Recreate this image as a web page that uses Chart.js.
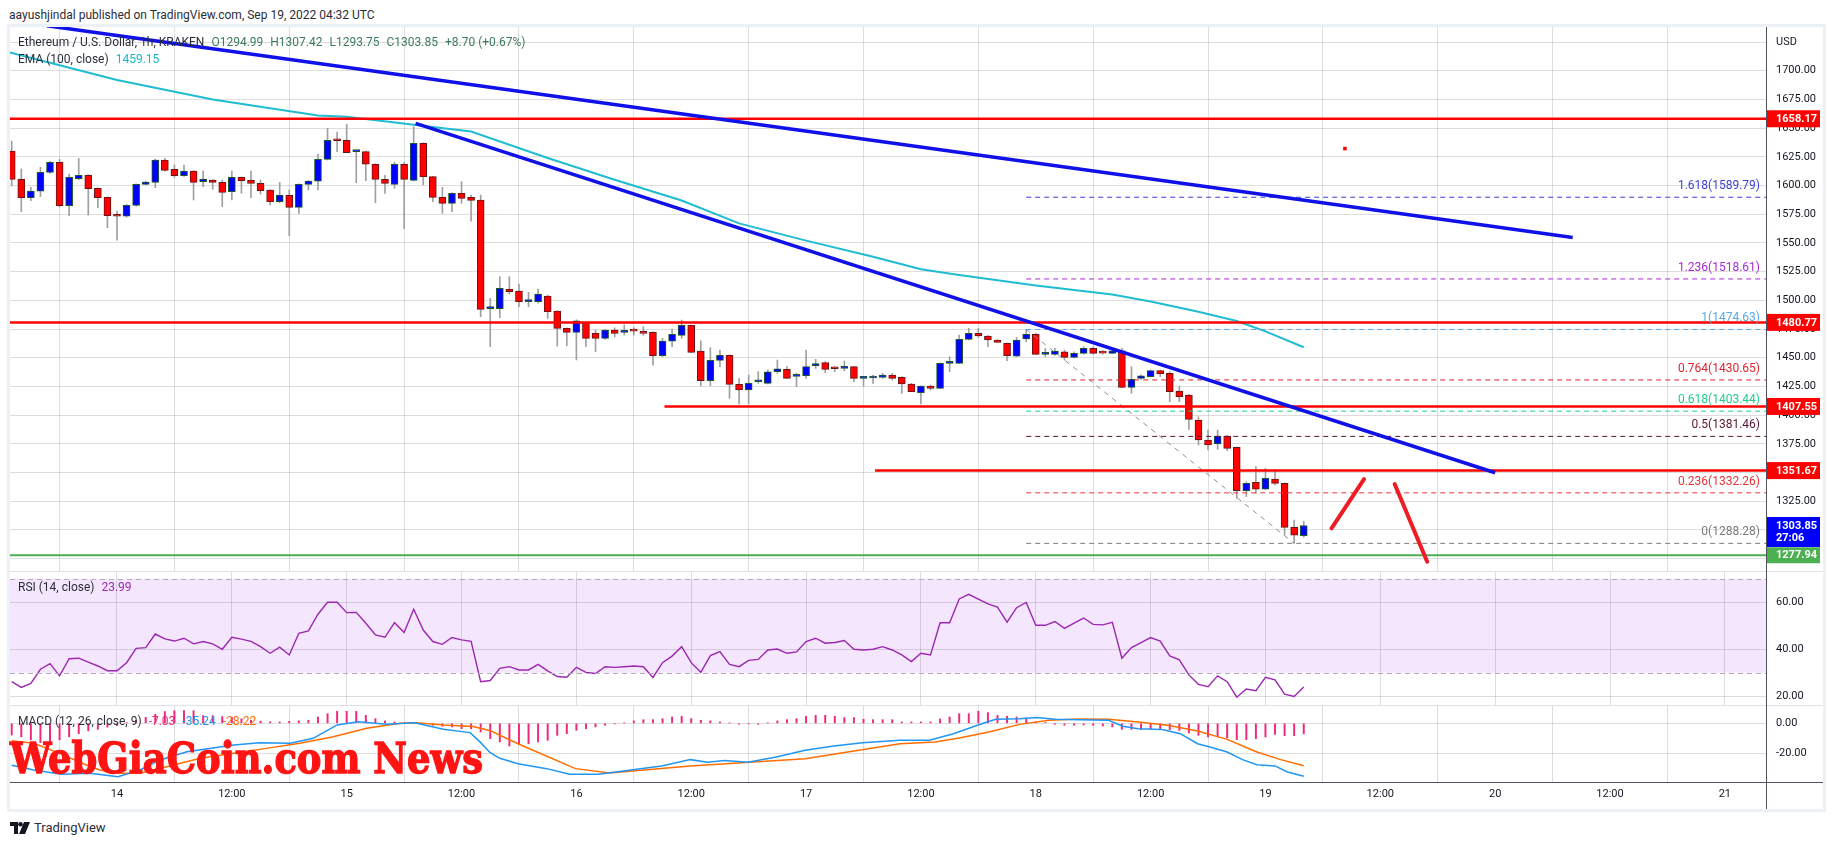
<!DOCTYPE html>
<html>
<head>
<meta charset="utf-8">
<script src="https://cdn.jsdelivr.net/npm/chart.js@4.4.0/dist/chart.umd.min.js"></script>
<style>
  html, body { margin: 0; padding: 0; background: #fff; }
  body { width: 1834px; height: 845px; position: relative; overflow: hidden; font-family: Roboto, 'DejaVu Sans', sans-serif; color: #131722; }
  canvas { position: absolute; left: 10px; }
  .abs { position: absolute; white-space: nowrap; }
  .lg { font-size: 12px; line-height: 14px; color: #2a2e39; }
  .lg span { margin-right: 4px; }
  .ln { position: absolute; }
</style>
</head>
<body>
<div class="abs" style="left:7px;top:24px;width:1819px;height:788px;border:3px solid #edf0f5;box-sizing:border-box;"></div>

<canvas id="price" width="1813" height="544" style="top:27px"></canvas>
<canvas id="rsi" width="1813" height="134" style="top:571px"></canvas>
<canvas id="macd" width="1813" height="104" style="top:705px"></canvas>

<div class="ln" style="left:10px;top:571px;width:1813px;height:1px;background:#dfe1e8"></div>
<div class="ln" style="left:10px;top:705px;width:1813px;height:1px;background:#dfe1e8"></div>
<div class="ln" style="left:10px;top:782px;width:1813px;height:1px;background:#50535e"></div>
<div class="ln" style="left:1766px;top:27px;width:1px;height:782px;background:#50535e"></div>

<div class="abs" style="left:9px;top:8px;font-size:12px;line-height:14px;color:#2a2e39">aayushjindal published on TradingView.com, Sep 19, 2022 04:32 UTC</div>
<div class="abs lg" style="left:18px;top:35px"><span>Ethereum / U.S. Dollar, 1h, KRAKEN</span> <span style="color:#3d7b5b">O1294.99</span> <span style="color:#3d7b5b">H1307.42</span> <span style="color:#3d7b5b">L1293.75</span> <span style="color:#3d7b5b">C1303.85</span> <span style="color:#3d7b5b">+8.70 (+0.67%)</span></div>
<div class="abs lg" style="left:18px;top:52px"><span>EMA (100, close)</span> <span style="color:#1cb5cc">1459.15</span></div>
<div class="abs lg" style="left:18px;top:580px"><span>RSI (14, close)</span> <span style="color:#9c27b0">23.99</span></div>
<div class="abs lg" style="left:18px;top:714px"><span>MACD (12, 26, close, 9)</span> <span style="color:#f0287a">-7.03</span> <span style="color:#2196f3">-35.24</span> <span style="color:#ff6d00">-28.22</span></div>

<div id="wm" class="abs" style="left:10px;top:737px;font-family:'DejaVu Serif Condensed','DejaVu Serif',serif;font-weight:bold;font-size:43px;line-height:43px;color:#ff1414;-webkit-text-stroke:1.3px #ff1414;transform-origin:0 0;">WebGiaCoin.com News</div>

<div class="abs" style="left:10px;top:820px;display:flex;align-items:center;">
  <svg width="20" height="12" viewBox="0 0 20 12"><path d="M0 0h8v12H4V4H0z" fill="#131722"/><circle cx="10.5" cy="2.3" r="2.3" fill="#131722"/><path d="M14 0h6l-5 12H9z" fill="#131722"/></svg>
  <span style="font-size:13px;margin-left:4px;color:#2a2e39">TradingView</span>
</div>

<script>
// hours counted from Sep 13 00:00; first candle is Sep 13 13:00
const firstHour = 13;
const opens = [1630.1,1605.4,1589.4,1595.0,1611.5,1620.2,1582.4,1606.0,1608.9,1597.5,
1589.7,1573.7,1573.2,1582.7,1601.0,1602.8,1622.2,1614.1,1608.6,1612.6,
1603.4,1604.8,1602.8,1594.6,1607.1,1604.8,1601.9,1596.1,1585.9,1591.4,
1581.0,1601.0,1603.9,1622.8,1639.4,1639.4,1629.5,1629.5,1618.5,1605.4,
1601.0,1618.5,1604.5,1636.8,1607.7,1589.7,1584.5,1593.2,1589.7,1587.4,
1492.7,1492.7,1509.5,1508.1,1498.8,1498.8,1503.7,1490.7,1475.6,1472.1,
1480.5,1471.2,1466.9,1474.1,1472.1,1473.3,1472.1,1472.1,1451.8,1464.5,
1469.5,1478.2,1455.8,1430.0,1447.7,1452.1,1426.8,1421.9,1429.1,1427.7,
1437.8,1439.9,1433.7,1434.3,1443.0,1445.7,1440.7,1440.7,1442.2,1432.0,
1432.3,1432.9,1434.9,1432.9,1427.1,1419.6,1425.3,1423.3,1445.1,1445.1,
1466.0,1471.2,1468.9,1465.4,1462.5,1451.4,1466.3,1470.4,1452.9,1452.9,
1455.2,1450.3,1453.8,1458.1,1454.5,1453.8,1456.1,1424.2,1432.0,1433.5,
1438.7,1436.4,1421.0,1417.5,1395.7,1378.3,1374.8,1381.8,1371.9,1334.2,
1341.4,1335.4,1344.3,1340.6,1302.2,1294.99];
const highs = [1638.8,1614.4,1598.4,1616.0,1621.0,1622.8,1610.0,1623.7,1609.5,1598.0,
1590.0,1577.8,1583.5,1601.5,1603.8,1623.1,1623.7,1617.9,1617.9,1613.0,
1612.6,1605.2,1604.8,1612.6,1607.5,1612.6,1604.8,1596.5,1602.8,1596.1,
1601.5,1604.3,1627.5,1649.8,1646.6,1653.3,1630.0,1630.0,1619.0,1608.9,
1620.2,1620.2,1651.3,1637.2,1608.1,1598.4,1593.6,1603.4,1591.7,1591.7,
1501.7,1520.6,1520.6,1514.2,1507.0,1509.8,1504.5,1491.0,1476.0,1483.0,
1481.0,1474.0,1474.5,1476.0,1478.5,1476.3,1477.0,1472.5,1466.9,1475.0,
1482.8,1478.6,1464.8,1458.7,1456.7,1452.5,1432.0,1434.9,1437.8,1439.3,
1448.0,1442.2,1436.4,1456.7,1448.6,1446.6,1442.2,1447.1,1442.6,1433.5,
1434.9,1436.4,1436.4,1433.5,1427.7,1425.5,1426.2,1445.5,1450.9,1469.8,
1475.6,1475.6,1469.3,1465.8,1462.9,1467.7,1474.63,1471.2,1458.1,1458.1,
1456.7,1455.2,1459.6,1459.6,1456.1,1458.1,1458.1,1442.2,1435.2,1439.3,
1439.3,1437.8,1425.3,1418.0,1398.6,1387.0,1387.0,1382.2,1372.2,1342.0,
1355.1,1353.6,1352.2,1341.0,1308.6,1307.42];
const lows = [1599.6,1577.2,1586.8,1590.3,1610.5,1581.5,1573.7,1605.0,1574.3,1580.7,
1563.3,1552.5,1572.5,1582.0,1600.5,1598.1,1612.5,1607.1,1608.0,1587.4,
1599.0,1596.7,1581.6,1587.4,1593.2,1589.4,1592.6,1583.0,1585.0,1556.3,
1575.8,1596.1,1596.1,1622.2,1629.5,1628.6,1602.5,1604.2,1585.0,1593.2,
1597.5,1562.7,1604.0,1600.5,1585.9,1575.8,1577.2,1584.5,1569.0,1485.7,
1459.6,1484.9,1505.5,1494.5,1494.5,1497.5,1484.3,1460.2,1460.5,1448.0,
1459.6,1455.3,1466.0,1468.0,1469.8,1469.7,1469.5,1443.6,1451.0,1459.6,
1466.9,1454.3,1425.3,1425.6,1442.2,1414.6,1409.7,1409.7,1427.7,1427.1,
1436.4,1432.0,1424.8,1432.0,1440.7,1437.0,1437.8,1438.4,1429.1,1425.3,
1427.7,1432.0,1430.6,1419.0,1420.4,1409.7,1421.9,1423.0,1437.8,1444.8,
1465.4,1467.7,1459.6,1463.4,1447.4,1451.0,1464.0,1452.9,1451.0,1452.0,
1448.0,1449.8,1453.2,1453.2,1453.2,1453.5,1424.0,1419.0,1431.1,1433.2,
1433.5,1411.7,1411.7,1387.6,1374.0,1369.6,1370.2,1369.0,1327.5,1329.0,
1331.8,1335.0,1339.1,1295.5,1288.28,1293.75];
const closes = [1605.4,1589.4,1595.2,1611.5,1620.2,1582.4,1607.1,1608.9,1597.3,1589.4,
1573.7,1573.2,1582.7,1601.0,1603.1,1622.2,1613.2,1608.6,1612.6,1602.8,
1605.7,1602.8,1594.1,1607.1,1604.2,1601.9,1595.5,1585.9,1591.7,1581.0,
1601.0,1603.9,1622.8,1639.4,1639.0,1628.6,1629.8,1618.5,1605.4,1601.9,
1618.5,1605.4,1636.8,1607.7,1589.7,1584.5,1593.2,1588.8,1587.1,1492.1,
1492.9,1510.4,1507.5,1498.8,1499.2,1505.5,1490.1,1475.6,1472.1,1482.2,
1466.9,1466.9,1474.1,1471.2,1472.6,1473.1,1471.2,1451.8,1464.5,1470.4,
1478.2,1454.7,1430.0,1447.7,1452.1,1426.8,1421.9,1427.7,1429.4,1437.8,
1440.4,1432.0,1433.8,1442.2,1445.0,1439.9,1440.4,1442.2,1432.0,1432.3,
1432.6,1434.9,1432.0,1427.1,1420.4,1425.3,1423.3,1445.1,1445.4,1466.0,
1471.2,1468.9,1465.4,1463.4,1451.8,1465.4,1470.4,1452.9,1453.1,1455.8,
1450.3,1453.8,1458.1,1453.8,1454.0,1456.1,1424.2,1431.1,1434.3,1438.7,
1435.8,1420.4,1416.0,1396.3,1378.3,1374.0,1381.8,1371.0,1334.2,1340.6,
1335.4,1344.9,1340.6,1302.2,1295.5,1303.85];

// EMA(100) read at key hours
const emaHours = [12.8,24,34,45,48,55,61,69,76,83,89,96,103,108,112,120,128,132,137,141,144,148];
const emaValues = [1716,1692,1675,1661,1660,1653,1647,1624,1605,1587,1567,1552,1538,1527,1522,1513,1505,1499,1490,1482,1473,1459.15];

const rsiValues = [26.2,23.8,25.5,31.5,33.9,28.7,36,36.2,34.5,32.9,
30.9,30.9,34.3,40.4,40.7,46.5,44.4,43.5,44.7,42.3,
43.3,42.3,40,45.1,44.3,43.4,41.1,38.3,40.9,37.6,
46.8,47.8,54.9,60,60,55.6,55.7,51.1,46.1,45.1,
51.3,47.1,57,48.2,43.3,42.1,45,44,43.4,26.2,
26.7,31.9,32.6,31.2,31.2,33.6,30.8,28.4,28.1,32.3,
30.2,29.7,32.6,32.3,32.6,32.9,32.6,28,34.3,37.1,
41.1,34.3,30.2,37.3,39,33.6,32.6,35.3,35.7,39.7,
40.1,38.3,38.9,43.3,44.7,42.6,42.9,43.7,40,39.7,
40,41.1,39.7,37.6,34.8,38.3,37.6,51.3,51.3,61.4,
63.4,61.3,59.3,57.9,51.5,57.7,59.9,50.2,50.2,51.8,
48.9,51.1,53.3,50.6,50.4,51.5,36.2,40.7,42.8,45,
43.5,37.2,35.5,29.1,25.1,24.1,28.7,26.2,19.6,23.1,
22.4,28.1,27,20.9,19.9,23.99];
const rsiBand = [70, 30];

const macdHist = [-7.8,-9,-11,-12.9,-13.8,-11,-9,-7,-5,-4,
-2.5,-1.5,0.5,2,4,6,7.8,8.4,8.4,8.4,
5.1,5.1,4.5,4,3,2,1.5,1,0.9,1.3,
1.6,2,4.2,6.4,8,8,8,5.3,3.1,1.6,
0.9,0.4,0.2,-0.2,-1.3,-2,-2.4,-3.6,-3.6,-5.8,
-10.2,-12.4,-15.1,-14,-13.6,-12.4,-11.3,-8,-6.9,-4.7,
-3.6,-2.4,-1.3,-0.2,0.2,1.6,2.4,2.4,3.1,4.2,
4.7,3.1,2,1.6,0.9,0.2,-0.7,-0.2,-0.7,0.2,
1.6,2.4,3.1,4.7,5.3,5.3,4.7,3.8,3.8,2.7,
2.4,2.4,2.4,0.9,0.9,0.9,0.9,2.9,4.2,6.4,
6.4,8,7.1,5.3,4.7,4.2,3.5,0.9,0.5,-0.7,
-1.3,-1.3,-1.1,-1.3,-1.8,-2.4,-4,-4,-4.2,-3.6,
-3.6,-4.2,-4.7,-6.4,-8,-9.1,-9.1,-9.8,-10.9,-10.9,
-10.2,-9.1,-7.3,-8.2,-8.2,-7.03];
const macdHours = [13,15.3,18.2,21.2,24.1,26.4,28.5,31.3,36.2,38.9,42.1,44.5,47,49.2,52.2,55.1,58.1,60.9,61.9,63,64,65.9,68.9,71.3,74.3,77.9,80.9,83.9,85.7,87.5,89.9,92.9,95.9,98.9,101.9,105.8,108.9,111.4,113.9,115.8,118.3,120.1,122,124.5,127.6,129.1,130.7,133.2,135.1,136.9,138.2,140,141.6,143.1,145,146.3,148];
const macdValues = [-28,-31.1,-33.9,-33.3,-35.6,-31.1,-24.4,-18.9,-14.4,-12.9,-13.3,-10,-1.1,1.1,-0.7,0.4,-4,-6.2,-12.2,-19.6,-23.3,-26.9,-30.2,-34,-34,-30.9,-28.4,-24.2,-26,-24.7,-26,-22.4,-18,-15.1,-12.9,-11.3,-11.3,-6.9,-1.3,2.7,3.1,3.8,2.7,2.4,2,-2,-3.6,-4.2,-6.9,-13.6,-15.8,-19.1,-24.2,-27.6,-28.4,-32.4,-35.24];
const signalHours = [13,15.3,18,20.8,22.2,24.1,26.4,29.2,32.7,36.2,39.6,43.1,46.6,50.1,53.6,55.3,58.1,61.2,63,65.9,71.9,75.5,83.9,95.9,105.8,109.5,112,115.1,118.3,121.4,124.5,127.6,130.7,133.8,136.9,140,143.1,145.6,148];
const signalValues = [-11.6,-13.3,-20,-27.8,-31.1,-33.3,-33.3,-28.9,-23.3,-20,-16.7,-13.3,-8.9,-3.3,0,0.4,-1.1,-2.2,-4.9,-13.6,-30.2,-33.1,-28.4,-23.6,-13.6,-12.4,-9.8,-5.8,-0.7,2,2.9,2.7,0.9,-1.3,-5.1,-10.7,-19.1,-24.2,-28.22];

// drawn levels
const resistanceLevels = [1658.17, 1480.77, 1407.55, 1351.67];
const resistanceStart = [12.82, 12.82, 81.2, 103.2];
const supportLevel = 1277.94;
const fibRatios = ['1.618', '1.236', '1', '0.764', '0.618', '0.5', '0.236', '0'];
const fibValues = [1589.79, 1518.61, 1474.63, 1430.65, 1403.44, 1381.46, 1332.26, 1288.28];
const fibColors = ['#3c3fd8', '#a52bd6', '#5aa9e6', '#e0242f', '#1fcf8a', '#5a1533', '#e8343a', '#7a7a7a'];
const fibStart = 119;
const fibSwing = [[119, 1474.63], [147, 1288.28]];
const trendUpper = [[16.67, 1739.2], [176.1, 1554.8]];
const trendLower = [[55.2, 1654.2], [168, 1349.8]];
const arrowUp = [[150.9, 1301.4], [154.3, 1344.3]];
const arrowDown = [[157.5, 1340], [160.9, 1272.3]];
const markDot = [152.3, 1632.2];
const lastPrice = 1303.85, lastTimer = '27:06';

const priceTicks = [1275,1300,1325,1350,1375,1400,1425,1450,1475,1500,1525,1550,1575,1600,1625,1650,1675,1700,1725];
const rsiTicks = [20, 40, 60];
const macdTicks = [-20, 0];
const xTickHours = [24,36,48,60,72,84,96,108,120,132,144,156,168,180,192];
const xTickLabels = ['14','12:00','15','12:00','16','12:00','17','12:00','18','12:00','19','12:00','20','12:00','21'];

const xMin = 12.82, xMax = 196.3;
const gridColor = 'rgba(0,0,0,0.13)';
const axisFont = { family: 'Roboto', size: 11 };

const hours = opens.map((_, i) => firstHour + i);
const pts = arr => arr.map(p => ({ x: p[0], y: p[1] }));

function xScale(showLabels) {
  return {
    type: 'linear', min: xMin, max: xMax, offset: false,
    afterBuildTicks: s => { s.ticks = xTickHours.map(v => ({ value: v })); },
    afterFit: s => { s.height = showLabels ? 27 : 0; },
    grid: { color: gridColor, drawTicks: false },
    border: { display: false },
    ticks: {
      display: showLabels, autoSkip: false, maxRotation: 0, padding: 6, color: '#131722', font: axisFont,
      callback: v => { const i = xTickHours.indexOf(v); return i >= 0 ? xTickLabels[i] : ''; }
    }
  };
}
// y labels are painted by the axisLabels plugin so the scale adds no label padding
function yScale(min, max, ticks) {
  return {
    position: 'right', min: min, max: max,
    afterBuildTicks: s => { s.ticks = ticks.map(v => ({ value: v })); },
    afterFit: s => { s.width = 57; },
    grid: { color: gridColor, drawTicks: false },
    border: { display: false },
    ticks: { display: false }
  };
}
function axisLabels(ticks, fmt) {
  return {
    id: 'axisLabels',
    afterDraw(chart) {
      const { ctx, chartArea, scales: { y } } = chart;
      ctx.save();
      ctx.font = '11px Roboto';
      ctx.fillStyle = '#131722';
      ctx.textAlign = 'left';
      ctx.textBaseline = 'middle';
      ticks.forEach(v => ctx.fillText(fmt(v), chartArea.right + 10, y.getPixelForValue(v)));
      ctx.restore();
    }
  };
}
const baseOptions = {
  responsive: false, animation: false, devicePixelRatio: 1, events: [],
  layout: { padding: 0, autoPadding: false },
  plugins: { legend: { display: false }, tooltip: { enabled: false } }
};
function line(data, color, width, order, extra) {
  return Object.assign({ type: 'line', data: data, borderColor: color, borderWidth: width, pointRadius: 0, tension: 0, fill: false, order: order }, extra || {});
}

// price pane overlays: fib labels and axis badges
const priceOverlay = {
  id: 'priceOverlay',
  afterDatasetsDraw(chart) {
    const { ctx, chartArea, scales: { y } } = chart;
    ctx.save();
    ctx.font = '12px Roboto';
    ctx.textAlign = 'right';
    ctx.textBaseline = 'middle';
    fibValues.forEach((v, i) => {
      ctx.fillStyle = fibColors[i];
      ctx.fillText(fibRatios[i] + '(' + v.toFixed(2) + ')', chartArea.right - 6, y.getPixelForValue(v) - 11);
    });
    ctx.restore();
  },
  afterDraw(chart) {
    const { ctx, chartArea, scales: { y } } = chart;
    const x0 = chartArea.right;
    ctx.save();
    ctx.font = 'bold 11px Roboto';
    ctx.textAlign = 'left';
    ctx.textBaseline = 'middle';
    resistanceLevels.forEach(v => {
      const py = y.getPixelForValue(v);
      ctx.fillStyle = '#ff0000';
      ctx.fillRect(x0, py - 8.5, 54, 17);
      ctx.fillStyle = '#fff';
      ctx.fillText(v.toFixed(2), x0 + 10, py + 0.5);
    });
    let py = y.getPixelForValue(lastPrice);
    ctx.fillStyle = '#0000ff';
    ctx.fillRect(x0, py - 8.5, 54, 30);
    ctx.fillStyle = '#fff';
    ctx.fillText(lastPrice.toFixed(2), x0 + 10, py + 0.5);
    ctx.fillText(lastTimer, x0 + 10, py + 13);
    py = y.getPixelForValue(supportLevel);
    ctx.fillStyle = '#4caf50';
    ctx.fillRect(x0, py - 8, 54, 16);
    ctx.fillStyle = '#fff';
    ctx.fillText(supportLevel.toFixed(2), x0 + 10, py + 0.5);
    ctx.restore();
  }
};

const datasets = [
  { type: 'bar', data: hours.map((h, i) => ({ x: h, y: [lows[i], highs[i]] })), backgroundColor: '#a0a0a0', barThickness: 1, grouped: false, order: 10 },
  { type: 'bar', data: hours.map((h, i) => ({ x: h, y: [opens[i], closes[i]] })),
    backgroundColor: hours.map((_, i) => closes[i] >= opens[i] ? '#0000ff' : '#ff0000'),
    borderColor: hours.map((_, i) => closes[i] >= opens[i] ? '#1e5a2c' : '#6a1414'),
    borderWidth: 1, borderSkipped: false, barThickness: 7, minBarLength: 2, grouped: false, order: 9 },
  line(emaHours.map((h, i) => ({ x: h, y: emaValues[i] })), '#1fbcd2', 2, 8)
];
fibValues.forEach((v, i) => {
  datasets.push(line([{ x: fibStart, y: v }, { x: xMax, y: v }], fibColors[i], 1, 7, { borderDash: [5, 4] }));
});
datasets.push(line(pts(fibSwing), '#8f8f8f', 1, 7, { borderDash: [5, 5] }));
resistanceLevels.forEach((v, i) => {
  datasets.push(line([{ x: resistanceStart[i], y: v }, { x: xMax, y: v }], '#ff0000', 2.5, 5));
});
datasets.push(line([{ x: xMin, y: supportLevel }, { x: xMax, y: supportLevel }], '#4caf50', 2, 5));
datasets.push(line(pts(trendUpper), '#1010e8', 3.5, 4));
datasets.push(line(pts(trendLower), '#1010e8', 3.5, 4));
datasets.push(line(pts(arrowUp), '#ee1c24', 4, 3, { borderCapStyle: 'round' }));
datasets.push(line(pts(arrowDown), '#ee1c24', 4, 3, { borderCapStyle: 'round' }));
datasets.push({ type: 'line', data: [{ x: markDot[0], y: markDot[1] }], showLine: false, pointStyle: 'rect', pointRadius: 2.5, pointBackgroundColor: '#ff0000', pointBorderWidth: 0, order: 2 });

new Chart(document.getElementById('price'), {
  type: 'line',
  data: { datasets: datasets },
  options: Object.assign({}, baseOptions, {
    scales: { x: xScale(false), y: yScale(1264.2, 1738.1, priceTicks) }
  }),
  plugins: [axisLabels(priceTicks, v => v === 1725 ? 'USD' : v.toFixed(2)), priceOverlay]
});

// RSI pane
const rsiBandPlugin = {
  id: 'rsiBand',
  beforeDraw(chart) {
    const { ctx, chartArea, scales: { y } } = chart;
    const top = y.getPixelForValue(rsiBand[0]), bot = y.getPixelForValue(rsiBand[1]);
    ctx.save();
    ctx.fillStyle = '#f3e6fd';
    ctx.fillRect(chartArea.left, top, chartArea.right - chartArea.left, bot - top);
    ctx.restore();
  },
  afterDatasetsDraw(chart) {
    const { ctx, chartArea, scales: { y } } = chart;
    ctx.save();
    ctx.strokeStyle = '#b8a9c2';
    ctx.lineWidth = 1;
    ctx.setLineDash([5, 4]);
    rsiBand.forEach(v => {
      const py = Math.round(y.getPixelForValue(v)) + 0.5;
      ctx.beginPath();
      ctx.moveTo(chartArea.left, py);
      ctx.lineTo(chartArea.right, py);
      ctx.stroke();
    });
    ctx.restore();
  }
};
new Chart(document.getElementById('rsi'), {
  type: 'line',
  data: { datasets: [line(hours.map((h, i) => ({ x: h, y: rsiValues[i] })), '#9c27b0', 1.4, 1)] },
  options: Object.assign({}, baseOptions, {
    scales: { x: xScale(false), y: yScale(16.3, 73.3, rsiTicks) }
  }),
  plugins: [rsiBandPlugin, axisLabels(rsiTicks, v => v.toFixed(2))]
});

// MACD pane with time axis
new Chart(document.getElementById('macd'), {
  type: 'line',
  data: {
    datasets: [
      { type: 'bar', data: hours.map((h, i) => ({ x: h, y: macdHist[i] })), backgroundColor: '#f0287a', barThickness: 1.3, grouped: false, order: 3 },
      line(signalHours.map((h, i) => ({ x: h, y: signalValues[i] })), '#ff6d00', 1.5, 2),
      line(macdHours.map((h, i) => ({ x: h, y: macdValues[i] })), '#2196f3', 1.5, 1)
    ]
  },
  options: Object.assign({}, baseOptions, {
    scales: { x: xScale(true), y: yScale(-39.1, 12.2, macdTicks) }
  }),
  plugins: [axisLabels(macdTicks, v => v.toFixed(2))]
});

function fitWatermark() {
  const wm = document.getElementById('wm');
  wm.style.transform = 'none';
  const w = wm.getBoundingClientRect().width;
  wm.style.transform = 'scaleX(' + (473 / w) + ')';
}
fitWatermark();
if (document.fonts) document.fonts.ready.then(fitWatermark);
</script>
</body>
</html>
